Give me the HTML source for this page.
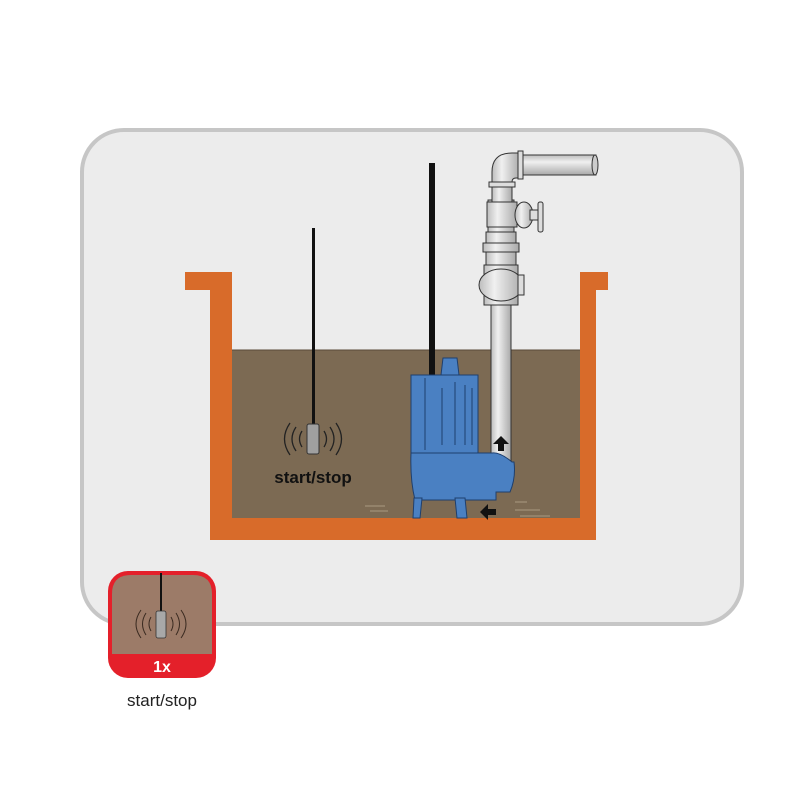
<!DOCTYPE html>
<html><head><style>body{margin:0;background:#fff}svg{display:block}</style></head><body>
<svg width="800" height="800" viewBox="0 0 800 800" xmlns="http://www.w3.org/2000/svg" font-family="Liberation Sans, sans-serif">
<defs>
<linearGradient id="pg" x1="0" x2="1" y1="0" y2="0"><stop offset="0" stop-color="#bdbdbd"/><stop offset=".35" stop-color="#f0f0f0"/><stop offset="1" stop-color="#a9a9a9"/></linearGradient>
<linearGradient id="ph" x1="0" x2="0" y1="0" y2="1"><stop offset="0" stop-color="#bdbdbd"/><stop offset=".35" stop-color="#f0f0f0"/><stop offset="1" stop-color="#a9a9a9"/></linearGradient>
</defs>
<rect x="82" y="130" width="660" height="494" rx="42" fill="#ececec" stroke="#c6c6c6" stroke-width="4"/>
<rect x="232" y="350" width="348" height="168" fill="#7c6a53"/>
<line x1="232" y1="350" x2="580" y2="350" stroke="#5a4a38" stroke-width="1"/>
<path d="M185 272 H232 V518 H580 V272 H608 V290 H596 V540 H210 V290 H185 Z" fill="#d86b2a"/>
<rect x="491" y="290" width="20" height="175" fill="url(#pg)" stroke="#333" stroke-width="1"/>
<rect x="484" y="265" width="34" height="40" fill="url(#pg)" stroke="#333"/>
<ellipse cx="501" cy="285" rx="22" ry="16" fill="url(#pg)" stroke="#333"/>
<rect x="518" y="275" width="6" height="20" fill="#ddd" stroke="#333"/>
<rect x="486" y="232" width="30" height="33" fill="url(#pg)" stroke="#333"/>
<rect x="483" y="243" width="36" height="9" fill="url(#pg)" stroke="#333"/>
<rect x="488" y="200" width="26" height="32" fill="url(#pg)" stroke="#333"/>
<rect x="487" y="202" width="30" height="25" fill="url(#pg)" stroke="#333"/>
<ellipse cx="524" cy="215" rx="9" ry="13" fill="url(#pg)" stroke="#333"/>
<rect x="530" y="210" width="8" height="10" fill="#ddd" stroke="#333"/>
<rect x="538" y="202" width="5" height="30" rx="2" fill="#ddd" stroke="#333"/>
<rect x="492" y="180" width="20" height="22" fill="url(#pg)" stroke="#333"/>
<rect x="489" y="182" width="26" height="5" fill="#ddd" stroke="#333"/>
<path d="M492 182 V172 Q492 153 512 153 H520 V178 H516 Q512 178 512 182 Z" fill="url(#pg)" stroke="#333"/>
<rect x="520" y="155" width="76" height="20" fill="url(#ph)" stroke="#333"/>
<rect x="518" y="151" width="5" height="28" fill="#ddd" stroke="#333"/>
<ellipse cx="595" cy="165" rx="3" ry="10" fill="#ccc" stroke="#333"/>
<rect x="429" y="163" width="6" height="212" fill="#111"/>
<g fill="#4a80c2" stroke="#1e3f6e" stroke-width="1">
<path d="M443 358 H457 L459 375 H441 Z"/>
<path d="M411 375 H478 V455 H411 Z"/>
<path d="M411 453 H492 Q500 452 512 462 H514 Q516 478 510 492 H496 V500 H415 Q410 480 411 453 Z"/>
<path d="M414 498 H422 L420 518 H413 Z"/><path d="M455 498 H465 L467 518 H457 Z"/>
</g>
<g stroke="#1e3f6e" fill="none" stroke-width="1">
<path d="M442 388 V445 M455 382 V445 M465 385 V445 M472 388 V445 M425 378 V450"/>
</g>
<path d="M501 436 l-8 8 h5 v7 h6 v-7 h5z" fill="#111"/>
<path d="M480 512 l8 -8 v5 h8 v6 h-8 v5z" fill="#111"/>
<g stroke="#c9b9a2" stroke-width="1" opacity=".6"><path d="M365 506 h20 M370 511 h18 M515 510 h25 M520 516 h30 M515 502 h12"/></g>
<rect x="312" y="228" width="3" height="198" fill="#111"/>
<rect x="307" y="424" width="12" height="30" rx="2" fill="#a0a0a0" stroke="#333"/>
<g fill="none" stroke="#222" stroke-width="1.3">
<path d="M302 431 q-5 8 0 16 M296 427 q-8 12 0 24 M290 423 q-11 16 0 32"/>
<path d="M324 431 q5 8 0 16 M330 427 q8 12 0 24 M336 423 q11 16 0 32"/>
</g>
<text x="313" y="483" font-size="17" font-weight="bold" text-anchor="middle" fill="#111">start/stop</text>
<rect x="108" y="571" width="108" height="107" rx="20" fill="#e4202a"/>
<path d="M112 594 Q112 575 131 575 H193 Q212 575 212 594 V654 H112 Z" fill="#9c7b68"/>
<rect x="160" y="573" width="2" height="38" fill="#111"/>
<rect x="156" y="611" width="10" height="27" rx="2" fill="#a8a8a8" stroke="#333" stroke-width=".8"/>
<g fill="none" stroke="#3a2a20" stroke-width="1">
<path d="M151 617 q-4 7 0 14 M146 613 q-7 11 0 22 M141 610 q-10 14 0 28"/>
<path d="M171 617 q4 7 0 14 M176 613 q7 11 0 22 M181 610 q10 14 0 28"/>
</g>
<text x="162" y="672" font-size="16" font-weight="bold" text-anchor="middle" fill="#fff">1x</text>
<text x="162" y="706" font-size="17" text-anchor="middle" fill="#222">start/stop</text>
</svg>
</body></html>
